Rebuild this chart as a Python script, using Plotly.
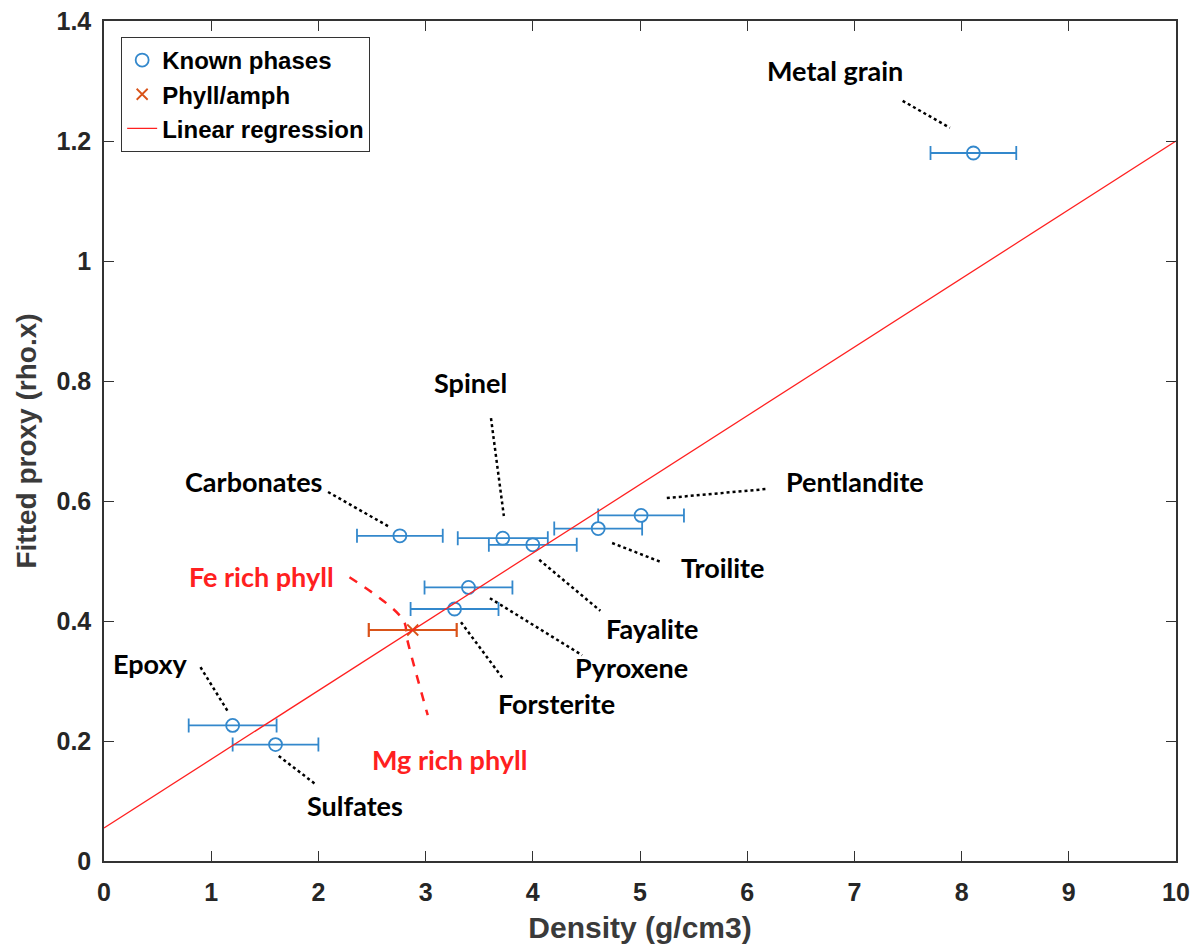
import plotly.graph_objects as go

# Known mineral phases: density (g/cm3), fitted proxy, density uncertainty
phases = ["Metal grain", "Pentlandite", "Troilite", "Spinel", "Fayalite",
          "Carbonates", "Pyroxene", "Forsterite", "Epoxy", "Sulfates"]
density = [8.11, 5.01, 4.61, 3.72, 4.00, 2.76, 3.40, 3.27, 1.20, 1.60]
proxy = [1.180, 0.576, 0.554, 0.538, 0.527, 0.542, 0.456, 0.420, 0.226, 0.194]
density_err = [0.40, 0.40, 0.41, 0.42, 0.41, 0.40, 0.41, 0.41, 0.41, 0.40]

# Phyllosilicate / amphibole point
phyll_density = [2.88]
phyll_proxy = [0.385]
phyll_err = [0.41]

# Linear regression end points
reg_x = [0.0, 10.0]
reg_y = [0.055, 1.20]

# Label positions and leader lines (start, end) for each phase
label_x = [6.82, 7.01, 5.77, 3.42, 5.11, 1.39, 4.92, 4.22, 0.43, 2.34]
label_y = [1.318, 0.633, 0.490, 0.797, 0.388, 0.633, 0.323, 0.262, 0.330, 0.092]
leader_x0 = [7.45, 5.25, 4.74, 3.61, 4.06, 2.09, 3.60, 3.33, 0.90, 1.63]
leader_y0 = [1.267, 0.605, 0.530, 0.738, 0.502, 0.615, 0.438, 0.398, 0.323, 0.175]
leader_x1 = [7.89, 6.18, 5.20, 3.73, 4.63, 2.66, 4.46, 3.73, 1.16, 1.98]
leader_y1 = [1.222, 0.620, 0.498, 0.575, 0.417, 0.557, 0.343, 0.302, 0.248, 0.127]

# Fe-rich to Mg-rich phyllosilicate trend (dashed red)
trend_x = [2.29, 2.79, 2.83, 3.02]
trend_y = [0.473, 0.402, 0.368, 0.243]
trend_labels = ["Fe rich phyll", "Mg rich phyll"]
trend_label_x = [1.47, 3.22]
trend_label_y = [0.475, 0.170]

BLUE = "#3388cc"
ORANGE = "#d95319"
RED = "#ff2020"

fig = go.Figure()

# Leader lines
for x0, y0, x1, y1 in zip(leader_x0, leader_y0, leader_x1, leader_y1):
    fig.add_trace(go.Scatter(
        x=[x0, x1], y=[y0, y1], mode="lines",
        line=dict(color="black", width=2.5, dash="dot"),
        showlegend=False, hoverinfo="skip"))

fig.add_trace(go.Scatter(
    x=trend_x, y=trend_y, mode="lines",
    line=dict(color=RED, width=2.5, dash="dash", shape="spline"),
    showlegend=False, hoverinfo="skip"))

fig.add_trace(go.Scatter(
    x=density, y=proxy, mode="markers", name="<b>Known phases</b>",
    marker=dict(symbol="circle-open", size=13, color=BLUE, line=dict(width=1.8)),
    error_x=dict(type="data", array=density_err, color=BLUE, thickness=1.8, width=7),
))

fig.add_trace(go.Scatter(
    x=phyll_density, y=phyll_proxy, mode="markers", name="<b>Phyll/amph</b>",
    marker=dict(symbol="x-thin-open", size=11, color=ORANGE, line=dict(width=1.8, color=ORANGE)),
    error_x=dict(type="data", array=phyll_err, color=ORANGE, thickness=2.2, width=7),
))

fig.add_trace(go.Scatter(
    x=reg_x, y=reg_y, mode="lines", name="<b>Linear regression</b>",
    line=dict(color=RED, width=1.3),
))

label_family = "Lato, Open Sans, sans-serif"
for name, lx, ly in zip(phases, label_x, label_y):
    fig.add_annotation(x=lx, y=ly, text="<b>%s</b>" % name, showarrow=False,
                       font=dict(family=label_family, size=27, color="black"))
for name, lx, ly in zip(trend_labels, trend_label_x, trend_label_y):
    fig.add_annotation(x=lx, y=ly, text="<b>%s</b>" % name, showarrow=False,
                       font=dict(family=label_family, size=27, color=RED))

axis_family = "Liberation Sans, Arial, sans-serif"
tick_font = dict(family=axis_family, size=25, color="#262626")

y_ticks = [0, 0.2, 0.4, 0.6, 0.8, 1.0, 1.2, 1.4]
y_ticktext = ["<b>0</b>", "<b>0.2</b>", "<b>0.4</b>", "<b>0.6</b>", "<b>0.8</b>",
              "<b>1</b>", "<b>1.2</b>", "<b>1.4</b>"]
x_ticks = list(range(0, 11))
x_ticktext = ["<b>%d</b>" % v for v in x_ticks]

fig.update_layout(
    width=1198, height=948,
    margin=dict(l=104, r=22, t=21, b=87),
    plot_bgcolor="white", paper_bgcolor="white",
    showlegend=True,
    legend=dict(x=0.016, y=0.981, xanchor="left", yanchor="top",
                bgcolor="white", bordercolor="#333333", borderwidth=1,
                font=dict(family=axis_family, size=24, color="black"),
                itemwidth=30, tracegroupgap=0),
    xaxis=dict(range=[0, 10], tickvals=x_ticks, ticktext=x_ticktext,
               ticks="inside", ticklen=10, tickcolor="#333333", tickwidth=1,
               showline=True, linecolor="#333333", linewidth=1.5, mirror="ticks",
               showgrid=False, zeroline=False, tickfont=tick_font, ticklabelstandoff=8,
               automargin=False,
               title=dict(text="<b>Density (g/cm3)</b>",
                          font=dict(family=axis_family, size=30, color="#3a3a3a"),
                          standoff=12)),
    yaxis=dict(range=[0, 1.4], tickvals=y_ticks, ticktext=y_ticktext,
               ticks="inside", ticklen=10, tickcolor="#333333", tickwidth=1,
               showline=True, linecolor="#333333", linewidth=1.5, mirror="ticks",
               showgrid=False, zeroline=False, tickfont=tick_font, ticklabelstandoff=6,
               automargin=False,
               title=dict(text="<b>Fitted proxy (rho.x)</b>",
                          font=dict(family=axis_family, size=28, color="#3a3a3a"),
                          standoff=12)),
)

fig.write_html("out.html")
